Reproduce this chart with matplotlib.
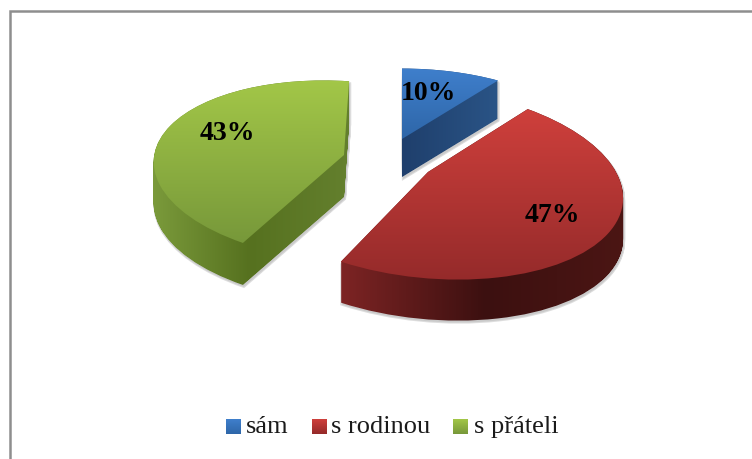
import matplotlib
matplotlib.use("Agg")
import matplotlib.pyplot as plt
from matplotlib.colors import LinearSegmentedColormap
from matplotlib.path import Path
from matplotlib.patches import PathPatch
import numpy as np

labels = ["sám", "s rodinou", "s přáteli"]
values = [10, 47, 43]
pct_text = ["10%", "47%", "43%"]

top_colors = [("#3f7fcc", "#2e66a8"), ("#cf403c", "#942a2a"), ("#a3c748", "#77983a")]
side_colors = [("#1f3f6c", "#2a5486"), ("#7d2424", "#3c1010", "#4c1614"), ("#7c9c3c", "#56711f", "#64802e")]

# apex x, apex y, a, b, c, d, perspective, depth
slice_geom = [
    (402, 139, 183, 0, 0, -81, 0.15, 38),
    (428, 172, 193, 12, -5, -94, 0.12, 41),
    (344, 155, 186, 12, 6, -87, 0.18, 42),
]
pct_pos = [(428, 93), (552, 216), (227, 134)]
legend_x = [226, 312, 453]
legend_text_x = [246, 331, 474]


def project(verts, g):
    cx, cy, a, b, c, d, p, depth = g
    w = 1 + p * verts[:, 1]
    x = cx + (a * verts[:, 0] + c * verts[:, 1]) / w
    y = cy + (b * verts[:, 0] + d * verts[:, 1]) / w
    return np.column_stack([x, y])


def gradient(ax, colors, extent, clip, horizontal=False):
    cmap = LinearSegmentedColormap.from_list("g", colors)
    ramp = np.linspace(0, 1, 256)
    ramp = ramp.reshape(1, -1) if horizontal else ramp.reshape(-1, 1)
    im = ax.imshow(ramp, cmap=cmap, extent=extent, aspect="auto", origin="upper",
                   interpolation="bilinear", zorder=3)
    if clip is not None:
        im.set_clip_path(clip, transform=ax.transData)
    return im


fig = plt.figure(figsize=(7.52, 4.59), dpi=100, facecolor="white")
ax = fig.add_axes([0, 0, 1, 1])
wedges, _ = ax.pie(values, startangle=90, counterclock=False, radius=1)

unit_paths = []
for w in wedges:
    unit_paths.append(w.get_path())
    w.set_visible(False)

for i in range(len(values)):
    g = slice_geom[i]
    up = unit_paths[i]
    verts = project(up.vertices, g)
    depth = g[7]

    # side wall: the top face swept downwards
    parts = []
    for dy in np.arange(0, depth + 1, 1.0):
        parts.append(Path(verts + [0, dy], up.codes))
    side = Path.make_compound_path(*parts)
    x0, y0 = verts.min(axis=0)
    x1, y1 = verts.max(axis=0)

    ax.add_patch(PathPatch(side, transform=ax.transData + matplotlib.transforms.Affine2D().translate(1, -2),
                           fc="#b5b5b5", ec="#b5b5b5", lw=1.5, alpha=0.45, zorder=2))
    gradient(ax, side_colors[i], (x0, x1, y1 + depth, y0), side, horizontal=True)

    top = Path(verts, up.codes)
    gradient(ax, top_colors[i], (x0, x1, y1, y0), top)

    ax.text(pct_pos[i][0], pct_pos[i][1], pct_text[i], ha="center", va="center",
            family="Liberation Serif", fontweight="bold", fontsize=20, color="black", zorder=5)

    # legend
    lx = legend_x[i]
    gradient(ax, top_colors[i], (lx, lx + 15, 434, 419), None)
    ax.text(legend_text_x[i], 427, labels[i], ha="left", va="center",
            family="Liberation Serif", fontsize=19, color="#1a1a1a", zorder=5)

# chart frame, cut off by the picture on the right and at the bottom
ax.plot([9.5, 9.5, 760], [470, 11, 11], color="#8e8e8e", lw=1.8, solid_joinstyle="miter", zorder=1)

ax.set_aspect("auto")
ax.set_xlim(0, 752)
ax.set_ylim(459, 0)
ax.axis("off")

fig.savefig("out.png", dpi=100)
